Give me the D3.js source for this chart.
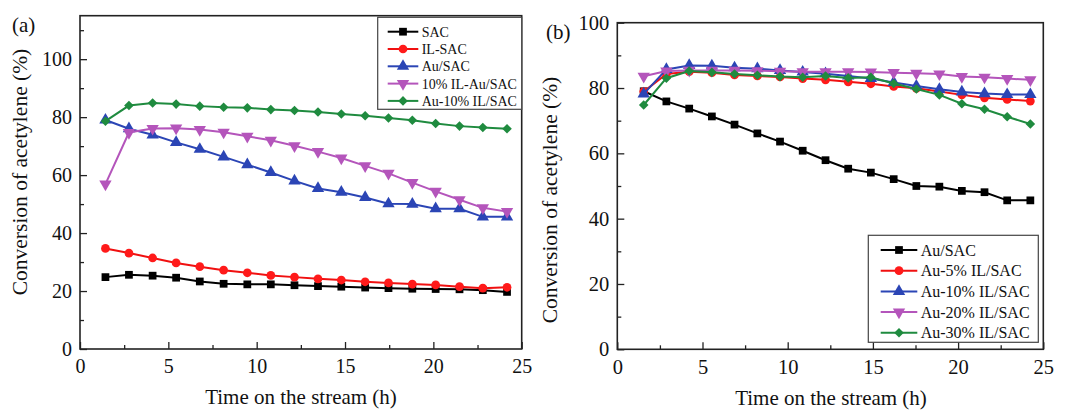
<!DOCTYPE html>
<html><head><meta charset="utf-8">
<script src="https://cdn.jsdelivr.net/npm/d3@7"></script>
<style>body{margin:0;background:#fff}svg{display:block}svg text{font-family:"Liberation Serif","DejaVu Serif","Times New Roman",serif !important;fill:#111}</style>
</head><body>
<svg id="c" width="1070" height="411"></svg>
<script>
// ---- data ----
const timeA = [1.44, 2.77, 4.11, 5.44, 6.78, 8.13, 9.47, 10.8, 12.14, 13.47, 14.79, 16.14, 17.46, 18.81, 20.13, 21.48, 22.8, 24.17];
const timeB = [1.55, 2.88, 4.22, 5.55, 6.88, 8.22, 9.55, 10.88, 12.22, 13.55, 14.88, 16.22, 17.55, 18.9, 20.22, 21.55, 22.88, 24.24];

const namesA = ["SAC", "IL-SAC", "Au/SAC", "10% IL-Au/SAC", "Au-10% IL/SAC"];
const sacA      = [24.8, 25.6, 25.3, 24.6, 23.3, 22.5, 22.3, 22.3, 22.0, 21.7, 21.5, 21.2, 21.0, 20.8, 20.7, 20.6, 20.3, 19.7];
const ilSacA    = [34.7, 33.1, 31.4, 29.7, 28.4, 27.2, 26.3, 25.4, 24.8, 24.2, 23.8, 23.2, 22.8, 22.4, 22.1, 21.5, 21.0, 21.3];
const auSacA    = [79.0, 76.0, 73.9, 71.3, 68.9, 66.3, 63.6, 60.9, 58.0, 55.4, 54.1, 52.3, 50.1, 50.0, 48.4, 48.4, 45.6, 45.6];
const ilAuSacA  = [56.9, 74.7, 76.1, 76.2, 75.7, 74.8, 73.4, 72.0, 70.1, 68.1, 65.9, 63.2, 60.6, 57.4, 54.4, 51.5, 48.7, 47.4];
const au10IlA   = [78.6, 84.0, 84.9, 84.5, 83.8, 83.4, 83.2, 82.6, 82.3, 81.8, 81.1, 80.5, 79.7, 78.9, 77.8, 76.9, 76.4, 76.0];

const namesB = ["Au/SAC", "Au-5% IL/SAC", "Au-10% IL/SAC", "Au-20% IL/SAC", "Au-30% IL/SAC"];
const auSacB    = [79.0, 75.9, 73.7, 71.3, 68.8, 66.1, 63.6, 60.8, 57.9, 55.3, 54.1, 52.1, 50.0, 49.8, 48.5, 48.1, 45.6, 45.6];
const au5B      = [78.9, 84.3, 85.0, 84.7, 84.0, 83.7, 83.4, 82.9, 82.5, 81.9, 81.3, 80.5, 79.9, 78.9, 77.9, 77.0, 76.5, 76.0];
const au10B     = [78.2, 85.7, 86.9, 86.8, 86.2, 85.9, 85.4, 84.9, 84.4, 83.7, 82.9, 81.7, 80.6, 79.6, 78.8, 78.3, 78.0, 78.0];
const au20B     = [83.6, 85.2, 85.4, 85.4, 85.4, 85.3, 85.1, 85.0, 85.0, 85.0, 84.9, 84.7, 84.5, 84.3, 83.5, 83.3, 82.9, 82.5];
const au30B     = [74.8, 83.0, 85.2, 84.8, 84.3, 83.9, 83.5, 83.3, 83.7, 83.1, 83.3, 81.4, 79.7, 77.9, 75.2, 73.5, 71.2, 69.0];

const xTicks = [0, 5, 10, 15, 20, 25];
const xMinor = [2.5, 7.5, 12.5, 17.5, 22.5];
const yTicks = [0, 20, 40, 60, 80, 100];
const yMinorA = [10, 30, 50, 70, 90, 110];
const yMinorB = [10, 30, 50, 70, 90];

// ---- styles ----
const colors = ["#000000", "#ff1a1a", "#2b45b5", "#b455bb", "#1f8b3f"];
const lineColors = ["#000000", "#f01010", "#2b45b5", "#b455bb", "#1f8b3f"];
const shapes = [
  {t: d3.symbolSquare, s: 60, r: 0},
  {t: d3.symbolCircle, s: 60, r: 0},
  {t: d3.symbolTriangle, s: 66, r: 0},
  {t: d3.symbolTriangle, s: 66, r: 180},
  {t: d3.symbolSquare, s: 46, r: 45}
];
const SERIF = '"Liberation Serif","DejaVu Serif","Times New Roman",serif';

const svg = d3.select("#c");
svg.append("rect").attr("width", 1070).attr("height", 411).attr("fill", "#fff");

function panel(cfg) {
  const g = svg.append("g");
  const x = d3.scaleLinear().domain([0, 25]).range([cfg.left, cfg.right]);
  const y = d3.scaleLinear().domain([0, cfg.ymax]).range([cfg.bottom, cfg.top]);

  // minor ticks
  g.append("g").attr("transform", `translate(0,${cfg.bottom})`)
    .call(d3.axisBottom(x).tickValues(xMinor).tickSize(-4).tickFormat(""))
    .call(s => s.select(".domain").remove());
  g.append("g").attr("transform", `translate(${cfg.left},0)`)
    .call(d3.axisLeft(y).tickValues(cfg.yMinor).tickSize(-4).tickFormat(""))
    .call(s => s.select(".domain").remove());
  // major
  const ax = g.append("g").attr("transform", `translate(0,${cfg.bottom})`)
    .call(d3.axisBottom(x).tickValues(xTicks).tickSize(-7).tickPadding(10).tickFormat(d3.format("d")));
  ax.select(".domain").remove();
  const ay = g.append("g").attr("transform", `translate(${cfg.left},0)`)
    .call(d3.axisLeft(y).tickValues(yTicks).tickSize(-7).tickPadding(8).tickFormat(d3.format("d")));
  ay.select(".domain").remove();
  g.selectAll("g").attr("font-family", SERIF);
  g.selectAll(".tick text").attr("font-size", cfg.tickFs).style("fill", "#111");
  g.selectAll(".tick line").attr("stroke", "#222").attr("stroke-width", 1.3);

  // series
  const line = d3.line().x(d => x(d[0])).y(d => y(d[1]));
  cfg.series.forEach((vals, i) => {
    const pts = cfg.time.map((t, j) => [t, vals[j]]);
    g.append("path").datum(pts).attr("d", line).attr("fill", "none")
      .attr("stroke", lineColors[i]).attr("stroke-width", 2);
    const sym = d3.symbol().type(shapes[i].t).size(shapes[i].s);
    g.selectAll(null).data(pts).enter().append("path")
      .attr("d", sym)
      .attr("transform", d => `translate(${x(d[0])},${y(d[1])}) rotate(${shapes[i].r})`)
      .attr("fill", colors[i]);
  });

  // frame
  g.append("rect").attr("x", cfg.left).attr("y", cfg.top)
    .attr("width", cfg.right - cfg.left).attr("height", cfg.bottom - cfg.top)
    .attr("fill", "none").attr("stroke", "#222").attr("stroke-width", 1.6);

  // legend
  const L = cfg.legend;
  g.append("rect").attr("x", L.x0).attr("y", L.y0).attr("width", L.x1 - L.x0).attr("height", L.y1 - L.y0)
    .attr("fill", "#fff").attr("stroke", "#444").attr("stroke-width", 1.2);
  cfg.names.forEach((n, i) => {
    const yy = L.row0 + L.dy * i;
    g.append("line").attr("x1", L.lx0).attr("x2", L.lx1).attr("y1", yy).attr("y2", yy)
      .attr("stroke", lineColors[i]).attr("stroke-width", 2);
    g.append("path").attr("d", d3.symbol().type(shapes[i].t).size(shapes[i].s)())
      .attr("transform", `translate(${(L.lx0 + L.lx1) / 2},${yy}) rotate(${shapes[i].r})`)
      .attr("fill", colors[i]);
    g.append("text").attr("x", L.tx).attr("y", yy).attr("dy", "0.35em")
      .attr("font-size", L.fs).text(n);
  });

  // titles
  g.append("text").attr("transform", `translate(${cfg.ytx},${cfg.yty}) rotate(-90)`)
    .attr("text-anchor", "middle").attr("font-size", 21.5).text("Conversion of acetylene (%)");
  g.append("text").attr("x", cfg.xtx).attr("y", cfg.xty)
    .attr("text-anchor", "middle").attr("font-size", 21).text("Time on the stream (h)");
  g.append("text").attr("x", cfg.labX).attr("y", cfg.labY).attr("font-size", 21).text(cfg.label);
}

panel({
  left: 80, right: 521.7, top: 15.7, bottom: 349, ymax: 115,
  yMinor: yMinorA, tickFs: 20, time: timeA,
  series: [sacA, ilSacA, auSacA, ilAuSacA, au10IlA], names: namesA,
  legend: {x0: 377.7, x1: 521.7, y0: 17.3, y1: 109.3, row0: 31.7, dy: 17.3, lx0: 387.7, lx1: 418.3, tx: 421.7, fs: 14},
  ytx: 27, yty: 172, xtx: 301, xty: 404, label: "(a)", labX: 12, labY: 32
});
panel({
  left: 617.3, right: 1043.3, top: 22.7, bottom: 349.3, ymax: 100,
  yMinor: yMinorB, tickFs: 20.5, time: timeB,
  series: [auSacB, au5B, au10B, au20B, au30B], names: namesB,
  legend: {x0: 868.3, x1: 1038.3, y0: 235.3, y1: 342.3, row0: 250, dy: 20.7, lx0: 880.7, lx1: 917.3, tx: 920.7, fs: 16},
  ytx: 557, yty: 200, xtx: 831, xty: 405, label: "(b)", labX: 546, labY: 39
});
</script>
</body></html>
